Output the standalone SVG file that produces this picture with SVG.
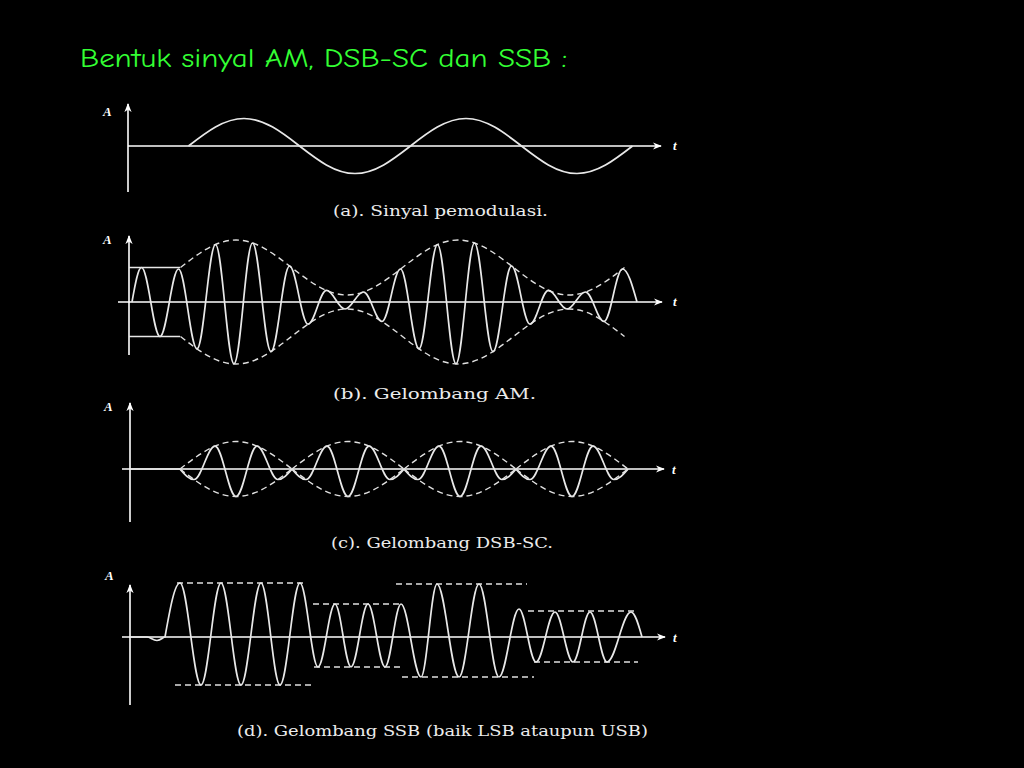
<svg xmlns="http://www.w3.org/2000/svg" width="1024" height="768" viewBox="0 0 1024 768">
  <style>
    .ax { stroke:#ffffff; stroke-width:1.6; fill:none; }
    .wave { stroke:#e8e8e8; stroke-width:1.7; fill:none; stroke-linejoin:round; }
    .ref { stroke:#e8e8e8; stroke-width:1.5; fill:none; }
    .env { stroke:#e0e0e0; stroke-width:1.4; fill:none; stroke-dasharray:6 4; }
    .cap { font-family:"DejaVu Serif","Liberation Serif",serif; font-size:14px; fill:#ececec; }
    .sym { font-family:"Liberation Serif",serif; font-style:italic; font-weight:bold; font-size:13px; fill:#ffffff; }
    .title { font-family:"Comic Neue","Liberation Sans",sans-serif; font-size:27px; fill:#33ff33; }
  </style>
  <defs>
    <marker id="arr" viewBox="0 0 10 10" refX="9" refY="5" markerWidth="9" markerHeight="9" markerUnits="userSpaceOnUse" orient="auto">
      <path d="M0,1 L10,5 L0,9 L3,5 z" fill="#ffffff"/>
    </marker>
    <path id="dsbLobe" class="wave" d="M0,469 C4.6,474.4 8.9,479.5 14,479.5 C21.6,479.5 27.4,446.1 35,446.1 C42.6,446.1 48.4,496.5 56,496.5 C63.6,496.5 69.4,446.1 77,446.1 C84.6,446.1 90.4,479.5 98,479.5 C103.1,479.5 107.4,474.4 112,469"/>
    <path id="dsbEnvU" class="env" d="M0,469 C18.3,454.9 35.7,441.5 56,441.5 C76.3,441.5 93.7,454.9 112,469"/>
    <path id="dsbEnvL" class="env" d="M0,469 C18.3,483.1 35.7,496.5 56,496.5 C76.3,496.5 93.7,483.1 112,469"/>
  </defs>
  <rect x="0" y="0" width="1024" height="768" fill="#000000"/>

  <text class="title" x="80" y="67" textLength="487" lengthAdjust="spacingAndGlyphs">Bentuk sinyal AM, DSB-SC dan SSB :</text>

  <g id="panel-a">
    <line class="ax" x1="128" y1="192" x2="128" y2="104" marker-end="url(#arr)"/>
    <line class="ax" x1="128" y1="146" x2="661" y2="146" marker-end="url(#arr)"/>
    <text class="sym" x="103" y="116">A</text>
    <text class="sym" x="673" y="150">t</text>
    <path class="wave" d="M188.5,146 C206.6,131.9 223.9,118.5 244,118.5 C284.3,118.5 314.7,173.5 355,173.5 C395.3,173.5 425.7,118.5 466,118.5 C506.3,118.5 536.7,173.5 577,173.5 C597.1,173.5 614.4,160.1 632.5,146"/>
    <text class="cap" x="333" y="216" textLength="215" lengthAdjust="spacingAndGlyphs">(a). Sinyal pemodulasi.</text>
  </g>

  <g id="panel-b">
    <line class="ax" x1="129" y1="355" x2="129" y2="236" marker-end="url(#arr)"/>
    <line class="ax" x1="118" y1="302" x2="662" y2="302" marker-end="url(#arr)"/>
    <text class="sym" x="103" y="244">A</text>
    <text class="sym" x="673" y="306">t</text>
    <line class="ref" x1="129" y1="267.5" x2="180" y2="267.5"/>
    <line class="ref" x1="129" y1="336.5" x2="180" y2="336.5"/>
    <path class="env" d="M180.5,267.5 C198.6,253.4 215.9,240 236,240 C276.3,240 306.7,295 347,295 C387.3,295 417.7,240 458,240 C498.3,240 528.7,295 569,295 C589.1,295 606.4,281.6 624.5,267.5"/>
    <path class="env" d="M180.5,336.5 C198.6,350.6 215.9,364 236,364 C276.3,364 306.7,309 347,309 C387.3,309 417.7,364 458,364 C498.3,364 528.7,309 569,309 C589.1,309 606.4,322.4 624.5,336.5"/>
    <path class="wave" d="M132,302 C135.1,284.3 138.1,267.5 141.5,267.5 C148.2,267.5 153.3,336.5 160,336.5 C166.7,336.5 171.8,269 178.5,269 C185.2,269 190.3,348.9 197,348.9 C203.7,348.9 208.8,244.5 215.5,244.5 C222.2,244.5 227.3,363.9 234,363.9 C240.7,363.9 245.8,243 252.5,243 C259.2,243 264.3,351.6 271,351.6 C277.7,351.6 282.8,266 289.5,266 C296.2,266 301.3,324.1 308,324.1 C314.7,324.1 319.8,290.4 326.5,290.4 C333.2,290.4 338.3,309 345,309 C351.7,309 356.8,292 363.5,292 C370.2,292 375.3,321.5 382,321.5 C388.7,321.5 393.8,269 400.5,269 C407.2,269 412.3,348.8 419,348.8 C425.7,348.8 430.8,244.5 437.5,244.5 C444.2,244.5 449.3,363.9 456,363.9 C462.7,363.9 467.8,243 474.5,243 C481.2,243 486.3,351.6 493,351.6 C499.7,351.6 504.8,266 511.5,266 C518.2,266 523.3,324.2 530,324.2 C536.7,324.2 541.8,290.4 548.5,290.4 C555.2,290.4 560.3,309 567,309 C573.7,309 578.8,292 585.5,292 C592.2,292 597.3,321.4 604,321.4 C610.7,321.4 615.8,269 622.5,269 C627.7,269 632.3,285.1 637,302"/>
    <text class="cap" x="333" y="399" textLength="203" lengthAdjust="spacingAndGlyphs">(b). Gelombang AM.</text>
  </g>

  <g id="panel-c">
    <line class="ax" x1="130" y1="522" x2="130" y2="403" marker-end="url(#arr)"/>
    <line class="ax" x1="122" y1="469" x2="664" y2="469" marker-end="url(#arr)"/>
    <text class="sym" x="104" y="411">A</text>
    <text class="sym" x="672" y="474">t</text>
    <line class="wave" x1="130" y1="469" x2="180" y2="469"/>
    <use href="#dsbLobe" x="180"/>
    <use href="#dsbLobe" x="292"/>
    <use href="#dsbLobe" x="404"/>
    <use href="#dsbLobe" x="516"/>
    <use href="#dsbEnvU" x="180"/>
    <use href="#dsbEnvU" x="292"/>
    <use href="#dsbEnvU" x="404"/>
    <use href="#dsbEnvU" x="516"/>
    <use href="#dsbEnvL" x="180"/>
    <use href="#dsbEnvL" x="292"/>
    <use href="#dsbEnvL" x="404"/>
    <use href="#dsbEnvL" x="516"/>
    <text class="cap" x="331" y="548" textLength="222" lengthAdjust="spacingAndGlyphs">(c). Gelombang DSB-SC.</text>
  </g>

  <g id="panel-d">
    <line class="ax" x1="130" y1="705" x2="130" y2="585" marker-end="url(#arr)"/>
    <line class="ax" x1="122" y1="637" x2="665" y2="637" marker-end="url(#arr)"/>
    <text class="sym" x="105" y="580">A</text>
    <text class="sym" x="673" y="642">t</text>
    <path class="env" d="M177,583 H307 M175,685 H313 M313,604 H400 M314,667 H400 M396,584 H527 M402,677 H534 M528,611 H634 M534,662 H638"/>
    <path class="wave" d="M130,637 L147,637 C150,637 153,640.5 157,640.5 C161,640.5 163,637 165,637 C169.9,609.4 174.6,583 180,583 C187.6,583 193.4,685 201,685 C208.3,685 213.7,583 221,583 C228.3,583 233.7,685 241,685 C248.3,685 253.7,583 261,583 C267.9,583 273.1,685 280,685 C287.3,685 292.7,583 300,583 C306.5,583 311.5,667 318,667 C324.2,667 328.8,604 335,604 C340.8,604 345.2,667 351,667 C357.2,667 361.8,604 368,604 C374.2,604 378.8,667 385,667 C390.8,667 395.2,604 401,604 C408.3,604 413.7,677 421,677 C426.8,677 431.2,584 437,584 C445,584 451,677 459,677 C466.3,677 471.7,584 479,584 C486.3,584 491.7,677 499,677 C506.3,677 511.7,609 519,609 C525.2,609 529.8,662 536,662 C542.9,662 548.1,612 555,612 C561.5,612 566.5,662 573,662 C579.2,662 583.8,612 590,612 C596.2,612 600.8,662 607,662 C615.7,662 622.3,612 631,612 C635,612 638.4,624.2 642,637"/>
    <text class="cap" x="237" y="736" textLength="411" lengthAdjust="spacingAndGlyphs">(d). Gelombang SSB (baik LSB ataupun USB)</text>
  </g>
</svg>
